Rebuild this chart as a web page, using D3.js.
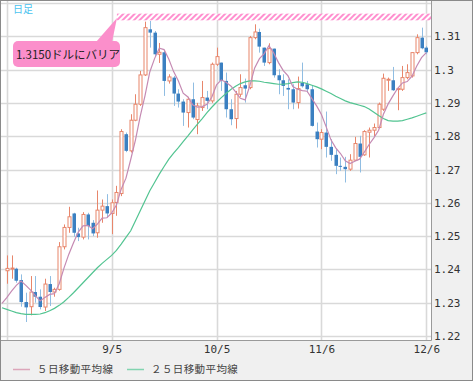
<!DOCTYPE html>
<html>
<head>
<meta charset="utf-8">
<script src="https://cdn.jsdelivr.net/npm/d3@7"></script>
<style>
  body { margin: 0; background: #fff; }
  svg { display: block; }
</style>
</head>
<body>
<svg id="chart" width="473" height="381"></svg>
<script>
// trading days shown on the x axis (8/3 only feeds the moving averages at the left edge)
const dates = ['8/3','8/6','8/7','8/8','8/9','8/10','8/13','8/14','8/15','8/16','8/17','8/20','8/21','8/22','8/23','8/24',
  '8/27','8/28','8/29','8/30','8/31','9/3','9/4','9/5','9/6','9/7','9/10','9/11','9/12','9/13','9/14',
  '9/17','9/18','9/19','9/20','9/21','9/24','9/25','9/26','9/27','9/28','10/1','10/2','10/3','10/4','10/5',
  '10/8','10/9','10/10','10/11','10/12','10/15','10/16','10/17','10/18','10/19','10/22','10/23','10/24','10/25','10/26',
  '10/29','10/30','10/31','11/1','11/2','11/5','11/6','11/7','11/8','11/9','11/12','11/13','11/14','11/15','11/16',
  '11/19','11/20','11/21','11/22','11/23','11/26','11/27','11/28','11/29','11/30','12/3','12/4','12/5','12/6'];

const candleDates = dates.slice(1);

const opens = [1.2396,1.2402,1.2402,1.2368,1.2302, 1.2288,1.2332,1.2318,1.2287,1.2356,
  1.2332,1.2340,1.2468,1.2526,1.2568, 1.2508,1.2497,1.2565,1.2540,1.2510,
  1.2578,1.2590,1.2568,1.2601,1.2628, 1.2806,1.2756,1.2848,1.2896,1.2984,
  1.3121,1.3111,1.3046,1.3052,1.2966, 1.2976,1.2928,1.2904,1.2871,1.2911,
  1.2850,1.2886,1.2916,1.2906,1.3016, 1.3021,1.2966,1.2881,1.2853,1.2926,
  1.2953,1.2946,1.3096,1.3113,1.3066, 1.3021,1.3063,1.2983,1.2968,1.2945,
  1.2941,1.2901,1.2960,1.2956,1.2941, 1.2814,1.2791,1.2811,1.2768,1.2744,
  1.2711,1.2708,1.2701,1.2728,1.2778, 1.2744,1.2812,1.2818,1.2826,1.2881,
  1.2968,1.2968,1.2940,1.2941,1.2976, 1.2981,1.3051,1.3096,1.3066];
const highs = [1.2442,1.2442,1.2405,1.2385,1.2330, 1.2380,1.2380,1.2340,1.2372,1.2380,
  1.2345,1.2482,1.2535,1.2588,1.2570, 1.2525,1.2572,1.2570,1.2548,1.2637,
  1.2610,1.2626,1.2610,1.2651,1.2821, 1.2811,1.2866,1.2926,1.2996,1.3144,
  1.3146,1.3116,1.3080,1.3056,1.2986, 1.2981,1.2941,1.2911,1.2918,1.2961,
  1.2900,1.2966,1.2936,1.3021,1.3066, 1.3021,1.2991,1.2911,1.2936,1.2986,
  1.2973,1.3101,1.3136,1.3123,1.3066, 1.3079,1.3063,1.3001,1.2986,1.2971,
  1.2956,1.2979,1.3021,1.2966,1.2951, 1.2841,1.2821,1.2874,1.2791,1.2761,
  1.2736,1.2738,1.2746,1.2798,1.2801, 1.2818,1.2826,1.2838,1.2901,1.2988,
  1.2976,1.3008,1.2946,1.3011,1.3016, 1.3051,1.3106,1.3126,1.3071];
const lows = [1.2357,1.2372,1.2360,1.2288,1.2242, 1.2262,1.2300,1.2280,1.2275,1.2290,
  1.2318,1.2336,1.2460,1.2510,1.2498, 1.2485,1.2490,1.2490,1.2500,1.2495,
  1.2540,1.2556,1.2506,1.2561,1.2620, 1.2752,1.2751,1.2845,1.2891,1.2981,
  1.3066,1.3041,1.3020,1.2921,1.2958, 1.2891,1.2886,1.2831,1.2826,1.2851,
  1.2806,1.2876,1.2881,1.2900,1.3011, 1.2936,1.2856,1.2833,1.2823,1.2918,
  1.2901,1.2941,1.3091,1.3051,1.3011, 1.3016,1.2976,1.2926,1.2921,1.2881,
  1.2881,1.2883,1.2946,1.2931,1.2829, 1.2766,1.2761,1.2736,1.2726,1.2686,
  1.2696,1.2661,1.2696,1.2726,1.2691, 1.2741,1.2736,1.2800,1.2824,1.2876,
  1.2936,1.2936,1.2878,1.2936,1.2971, 1.2976,1.3046,1.3061,1.3046];
const closes = [1.2403,1.2404,1.2366,1.2302,1.2286, 1.2332,1.2318,1.2287,1.2356,1.2332,
  1.2340,1.2468,1.2526,1.2558,1.2510, 1.2497,1.2565,1.2530,1.2508,1.2578,
  1.2590,1.2568,1.2600,1.2631,1.2814, 1.2756,1.2848,1.2896,1.2984,1.3126,
  1.3111,1.3046,1.3052,1.2966,1.2978, 1.2928,1.2904,1.2871,1.2911,1.2856,
  1.2891,1.2916,1.2906,1.3016,1.3039, 1.2966,1.2881,1.2851,1.2926,1.2946,
  1.2943,1.3096,1.3113,1.3069,1.3021, 1.3063,1.2983,1.2968,1.2951,1.2940,
  1.2901,1.2943,1.2950,1.2941,1.2831, 1.2791,1.2811,1.2768,1.2744,1.2711,
  1.2708,1.2701,1.2728,1.2778,1.2738, 1.2814,1.2818,1.2826,1.2896,1.2974,
  1.2971,1.2938,1.2943,1.2976,1.2991, 1.3051,1.3096,1.3064,1.3052];

// moving averages, one value per entry of dates
const ma5 = [1.2298,
  1.2315,1.2335,1.2352,1.2365,1.2352, 1.2338,1.2321,1.2305,1.2316,1.2325,
  1.2327,1.2357,1.2404,1.2445,1.2480, 1.2512,1.2531,1.2532,1.2522,1.2536,
  1.2554,1.2555,1.2569,1.2593,1.2641, 1.2674,1.2730,1.2789,1.2860,1.2922,
  1.2993,1.3033,1.3064,1.3060,1.3031, 1.2994,1.2966,1.2929,1.2918,1.2894,
  1.2887,1.2889,1.2896,1.2917,1.2954, 1.2969,1.2962,1.2951,1.2933,1.2914,
  1.2909,1.2952,1.3005,1.3033,1.3048, 1.3072,1.3050,1.3021,1.2997,1.2981,
  1.2949,1.2941,1.2937,1.2935,1.2913, 1.2891,1.2865,1.2828,1.2789,1.2765,
  1.2748,1.2726,1.2718,1.2725,1.2731, 1.2752,1.2775,1.2795,1.2818,1.2866,
  1.2897,1.2921,1.2944,1.2960,1.2964, 1.2980,1.3011,1.3036,1.3051];
const ma25 = [1.2285,
  1.2280,1.2275,1.2270,1.2267,1.2265, 1.2265,1.2265,1.2266,1.2270,1.2276,
  1.2283,1.2292,1.2303,1.2316,1.2330, 1.2345,1.2360,1.2375,1.2390,1.2405,
  1.2418,1.2430,1.2442,1.2457,1.2476, 1.2496,1.2516,1.2546,1.2576,1.2606,
  1.2636,1.2661,1.2686,1.2709,1.2731, 1.2749,1.2766,1.2784,1.2801,1.2819,
  1.2836,1.2853,1.2871,1.2887,1.2902, 1.2916,1.2928,1.2940,1.2950,1.2958,
  1.2963,1.2966,1.2966,1.2965,1.2962, 1.2960,1.2958,1.2956,1.2956,1.2958,
  1.2961,1.2963,1.2962,1.2958,1.2953, 1.2948,1.2942,1.2935,1.2928,1.2920,
  1.2913,1.2906,1.2901,1.2897,1.2893, 1.2889,1.2882,1.2872,1.2862,1.2853,
  1.2847,1.2845,1.2845,1.2847,1.2851, 1.2855,1.2860,1.2865,1.2870];

const yTicks = [1.22,1.23,1.24,1.25,1.26,1.27,1.28,1.29,1.30,1.31];
const yGrid = [1.22,1.23,1.24,1.25,1.26,1.27,1.28,1.29,1.30,1.31,1.32];
const xGrid = ['8/6','9/5','10/5','11/6','12/6'];
const xTickLabels = ['9/5','10/5','11/6','12/6'];
const barrier = [1.3148, 1.3168];
const barrierFrom = '9/6';
const barrierText = '1.3150ドルにバリア';
const legendNames = ['５日移動平均線', '２５日移動平均線'];

const W = 473, H = 381;
const plotL = 1, plotR = 431, plotT = 1, plotB = 340;
const upColor = '#e8866b', downColor = '#3b80c1', downWick = '#90bde2';
const ma5Color = '#c58ab3', ma25Color = '#52c491';

const svg = d3.select('#chart');

svg.append('rect').attr('width', W).attr('height', H).attr('fill', '#f0f0f0');
svg.append('rect')
  .attr('x', plotL).attr('y', plotT)
  .attr('width', plotR - plotL).attr('height', plotB - plotT)
  .attr('fill', '#fff');

svg.append('clipPath').attr('id', 'plot-clip')
  .append('rect')
  .attr('x', plotL).attr('y', plotT)
  .attr('width', plotR - plotL).attr('height', plotB - plotT);

const x = d3.scalePoint().domain(dates).range([plotL + 1, plotR - 4.7]);
const y = d3.scaleLinear().domain([1.22, 1.32]).range([336, 3]);

const px = d => Math.round(x(d)) + 0.5;

// grid
const grid = svg.append('g').attr('clip-path', 'url(#plot-clip)');
grid.selectAll('line.h').data(yGrid).join('line')
  .attr('class', 'h')
  .attr('x1', plotL).attr('x2', plotR)
  .attr('y1', d => Math.round(y(d)) + 0.5).attr('y2', d => Math.round(y(d)) + 0.5)
  .attr('stroke', '#d9d9d9').attr('stroke-width', 1.6);
grid.selectAll('line.v').data(xGrid).join('line')
  .attr('class', 'v')
  .attr('x1', px).attr('x2', px)
  .attr('y1', plotT).attr('y2', plotB)
  .attr('stroke', '#d9d9d9').attr('stroke-width', 1.6);

// barrier band
const defs = svg.append('defs');
const pat = defs.append('pattern')
  .attr('id', 'hatch').attr('patternUnits', 'userSpaceOnUse')
  .attr('width', 4).attr('height', 4)
  .attr('patternTransform', 'rotate(45)');
pat.append('rect').attr('width', 4).attr('height', 4).attr('fill', '#fff');
pat.append('rect').attr('width', 2).attr('height', 4).attr('fill', '#ff8fcf');

svg.append('rect')
  .attr('clip-path', 'url(#plot-clip)')
  .attr('x', x(barrierFrom) + 0.5)
  .attr('y', y(barrier[1]))
  .attr('width', plotR - x(barrierFrom))
  .attr('height', y(barrier[0]) - y(barrier[1]))
  .attr('fill', 'url(#hatch)');

// candles
const candles = candleDates.map((d, i) => ({
  date: d, o: opens[i], h: highs[i], l: lows[i], c: closes[i]
}));

const cg = svg.append('g').attr('clip-path', 'url(#plot-clip)');
const candle = cg.selectAll('g.candle').data(candles).join('g').attr('class', 'candle');

candle.append('line')
  .attr('x1', d => px(d.date)).attr('x2', d => px(d.date))
  .attr('y1', d => y(d.h)).attr('y2', d => y(d.l))
  .attr('stroke', d => d.c >= d.o ? upColor : downWick)
  .attr('stroke-width', 1);

candle.append('rect')
  .attr('x', d => d.c >= d.o ? px(d.date) - 1.5 : px(d.date) - 2)
  .attr('y', d => y(Math.max(d.o, d.c)))
  .attr('width', d => d.c >= d.o ? 3 : 3.5)
  .attr('height', d => Math.max(1, Math.abs(y(d.o) - y(d.c))))
  .attr('fill', d => d.c >= d.o ? '#fff' : downColor)
  .attr('stroke', d => d.c >= d.o ? upColor : 'none')
  .attr('stroke-width', 1);

// moving averages
const line = d3.line().x((d, i) => x(dates[i])).y(d => y(d));
cg.append('path').datum(ma25)
  .attr('d', line).attr('fill', 'none')
  .attr('stroke', ma25Color).attr('stroke-width', 1.2);
cg.append('path').datum(ma5)
  .attr('d', line).attr('fill', 'none')
  .attr('stroke', ma5Color).attr('stroke-width', 1.2);

// plot frame
svg.append('line').attr('x1', plotR + 0.5).attr('x2', plotR + 0.5)
  .attr('y1', 0).attr('y2', plotB + 0.5).attr('stroke', '#9a9a9a');
svg.append('line').attr('x1', 0).attr('x2', plotR + 0.5)
  .attr('y1', plotB + 0.5).attr('y2', plotB + 0.5).attr('stroke', '#9a9a9a');

// axes
const yAxis = svg.append('g')
  .attr('transform', `translate(${plotR + 1},0)`)
  .call(d3.axisRight(y).tickValues(yTicks).tickSize(0).tickPadding(2)
    .tickFormat(d => String(+d.toFixed(2))));
yAxis.select('.domain').remove();
yAxis.selectAll('text')
  .attr('font-family', '"DejaVu Sans Mono", monospace')
  .attr('font-size', 11).attr('fill', '#333');

const xAxis = svg.append('g')
  .attr('transform', `translate(0,${plotB})`)
  .call(d3.axisBottom(x).tickValues(xTickLabels).tickSize(0).tickPadding(5));
xAxis.select('.domain').remove();
xAxis.selectAll('text')
  .attr('font-family', '"DejaVu Sans Mono", monospace')
  .attr('font-size', 11).attr('fill', '#333');

// title tag
svg.append('text')
  .attr('x', 13).attr('y', 13)
  .attr('font-family', '"Noto Sans CJK JP", sans-serif')
  .attr('font-size', 10).attr('fill', '#4cc3ef')
  .text('日足');

// callout
svg.append('path')
  .attr('d', 'M96,42 L117,18 L112,42 Z')
  .attr('fill', '#fb8fcb');
svg.append('rect')
  .attr('x', 13).attr('y', 41).attr('width', 107).attr('height', 26).attr('rx', 5)
  .attr('fill', '#fb8fcb');
svg.append('text')
  .attr('x', 68).attr('y', 58.5)
  .attr('text-anchor', 'middle')
  .attr('font-family', '"Noto Sans CJK JP", sans-serif')
  .attr('font-size', 11.5).attr('fill', '#222')
  .text(barrierText);

// legend
const legend = svg.append('g').attr('transform', 'translate(0,369)');
const legendItems = [
  { name: legendNames[0], color: '#dca6ba', x: 13 },
  { name: legendNames[1], color: '#82d4b0', x: 127 }
];
const li = legend.selectAll('g').data(legendItems).join('g')
  .attr('transform', d => `translate(${d.x},0)`);
li.append('line').attr('x1', 0).attr('x2', 17).attr('y1', 0.5).attr('y2', 0.5)
  .attr('stroke', d => d.color).attr('stroke-width', 1.5);
li.append('text')
  .attr('x', 24).attr('y', 4)
  .attr('font-family', '"Noto Sans CJK JP", sans-serif')
  .attr('font-size', 10.5).attr('letter-spacing', 0.4).attr('fill', '#444')
  .text(d => d.name);

// outer frame
svg.append('rect').attr('x', 0.5).attr('y', 0.5).attr('width', W - 1).attr('height', H - 1)
  .attr('fill', 'none').attr('stroke', '#8a8a8a');
</script>
</body>
</html>
